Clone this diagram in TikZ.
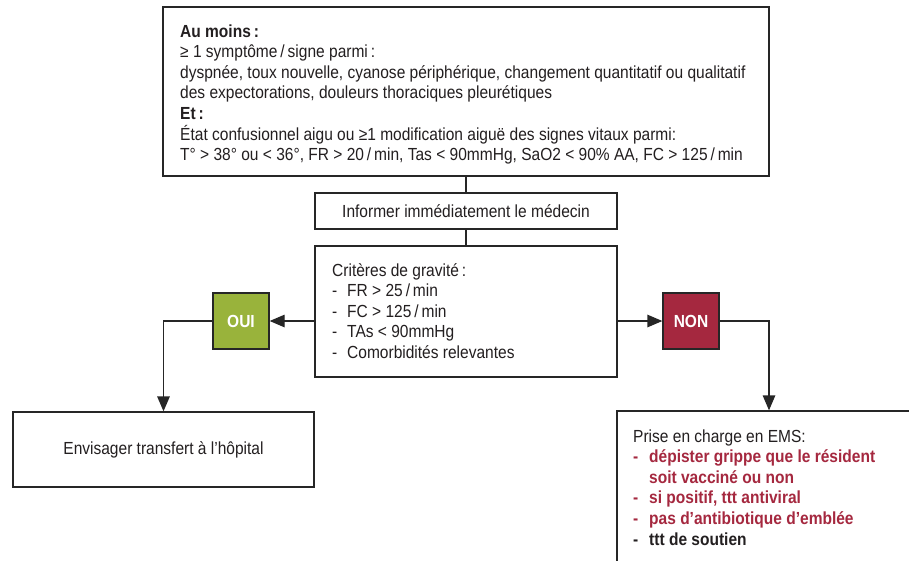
\documentclass[tikz,border=0pt]{standalone}
\usepackage{fontspec}
\setmainfont{Liberation Sans}[FakeStretch=0.887]
\usetikzlibrary{arrows.meta}

\definecolor{ink}{HTML}{231F20}
\definecolor{frame}{HTML}{262626}
\definecolor{ouigreen}{HTML}{99B33B}
\definecolor{nonred}{HTML}{A5283F}

\newcommand\flowfont{\fontsize{17.5}{20.6}\selectfont}
\newcommand\dashitem[1]{\makebox[#1][l]{-}}

\begin{document}
\begin{tikzpicture}[x=1pt, y=-1pt,
  box/.style={draw=frame, line width=1.3pt, rectangle, inner sep=0pt, fill=white},
  txt/.style={inner sep=0pt, anchor=base west, align=left, text=ink, font=\flowfont},
  ctxt/.style={inner sep=0pt, text=ink, font=\flowfont},
  tag/.style={draw=frame, line width=1.3pt, minimum width=56pt, minimum height=56pt,
    inner sep=0pt, text=white, font=\flowfont\bfseries},
  link/.style={draw=frame, line width=1.3pt},
  arrow/.style={link, -{Triangle[length=15pt, width=12.5pt]}}
]
\useasboundingbox (0,0) rectangle (909,560);
\clip (0,0) rectangle (909,560);

% boxes
\node[box, minimum width=606pt, minimum height=169pt] (top) at (466,91.5) {};
\node[box, minimum width=302pt, minimum height=36pt] (inf) at (466,211) {};
\node[box, minimum width=302pt, minimum height=131pt] (crit) at (466,311.5) {};
\node[tag, fill=ouigreen] (oui) at (241,321) {OUI};
\node[tag, fill=nonred] (non) at (691,321) {NON};
\node[box, minimum width=301pt, minimum height=75pt] (env) at (163.5,449.5) {};
\node[box, minimum width=304pt, minimum height=156pt] (ems) at (769,489) {};

% texts (each placed by the baseline of its last line)
\node[txt] (toptext) at (180,160.6) {%
\textbf{Au moins\,:}\\
≥ 1 symptôme\,/\,signe parmi\,:\\
dyspnée, toux nouvelle, cyanose périphérique, changement quantitatif ou qualitatif\\
des expectorations, douleurs thoraciques pleurétiques\\
\textbf{Et\,:}\\
État confusionnel aigu ou ≥1 modification aiguë des signes vitaux parmi:\\
T° > 38° ou < 36°, FR > 20\,/\,min, Tas < 90mmHg, SaO2 < 90\% AA, FC > 125\,/\,min};

\node[ctxt] (inftext) at (inf.center) {Informer immédiatement le médecin};

\node[txt] (crittext) at (332,358.4) {%
Critères de gravité\,:\\
\dashitem{15pt}FR > 25\,/\,min\\
\dashitem{15pt}FC > 125\,/\,min\\
\dashitem{15pt}TAs < 90mmHg\\
\dashitem{15pt}Comorbidités relevantes};

\node[ctxt] (envtext) at (env.center) {Envisager transfert à l’hôpital};

\node[txt] (emstext) at (633,545) {%
Prise en charge en EMS:\\
\textcolor{nonred}{\bfseries\dashitem{16pt}dépister grippe que le résident}\\
\textcolor{nonred}{\bfseries\hspace*{16pt}soit vacciné ou non}\\
\textcolor{nonred}{\bfseries\dashitem{16pt}si positif, ttt antiviral}\\
\textcolor{nonred}{\bfseries\dashitem{16pt}pas d’antibiotique d’emblée}\\
{\bfseries\dashitem{16pt}ttt de soutien}};

% connectors
\draw[link] (top.south) -- (inf.north);
\draw[link] (inf.south) -- (crit.north);
\draw[arrow] (crit.west |- oui.east) -- (oui.east);
\draw[arrow] (crit.east |- non.west) -- (non.west);
\draw[arrow] (oui.west) -| (env.north);
\draw[arrow] (non.east) -| (ems.north);
\end{tikzpicture}
\end{document}
